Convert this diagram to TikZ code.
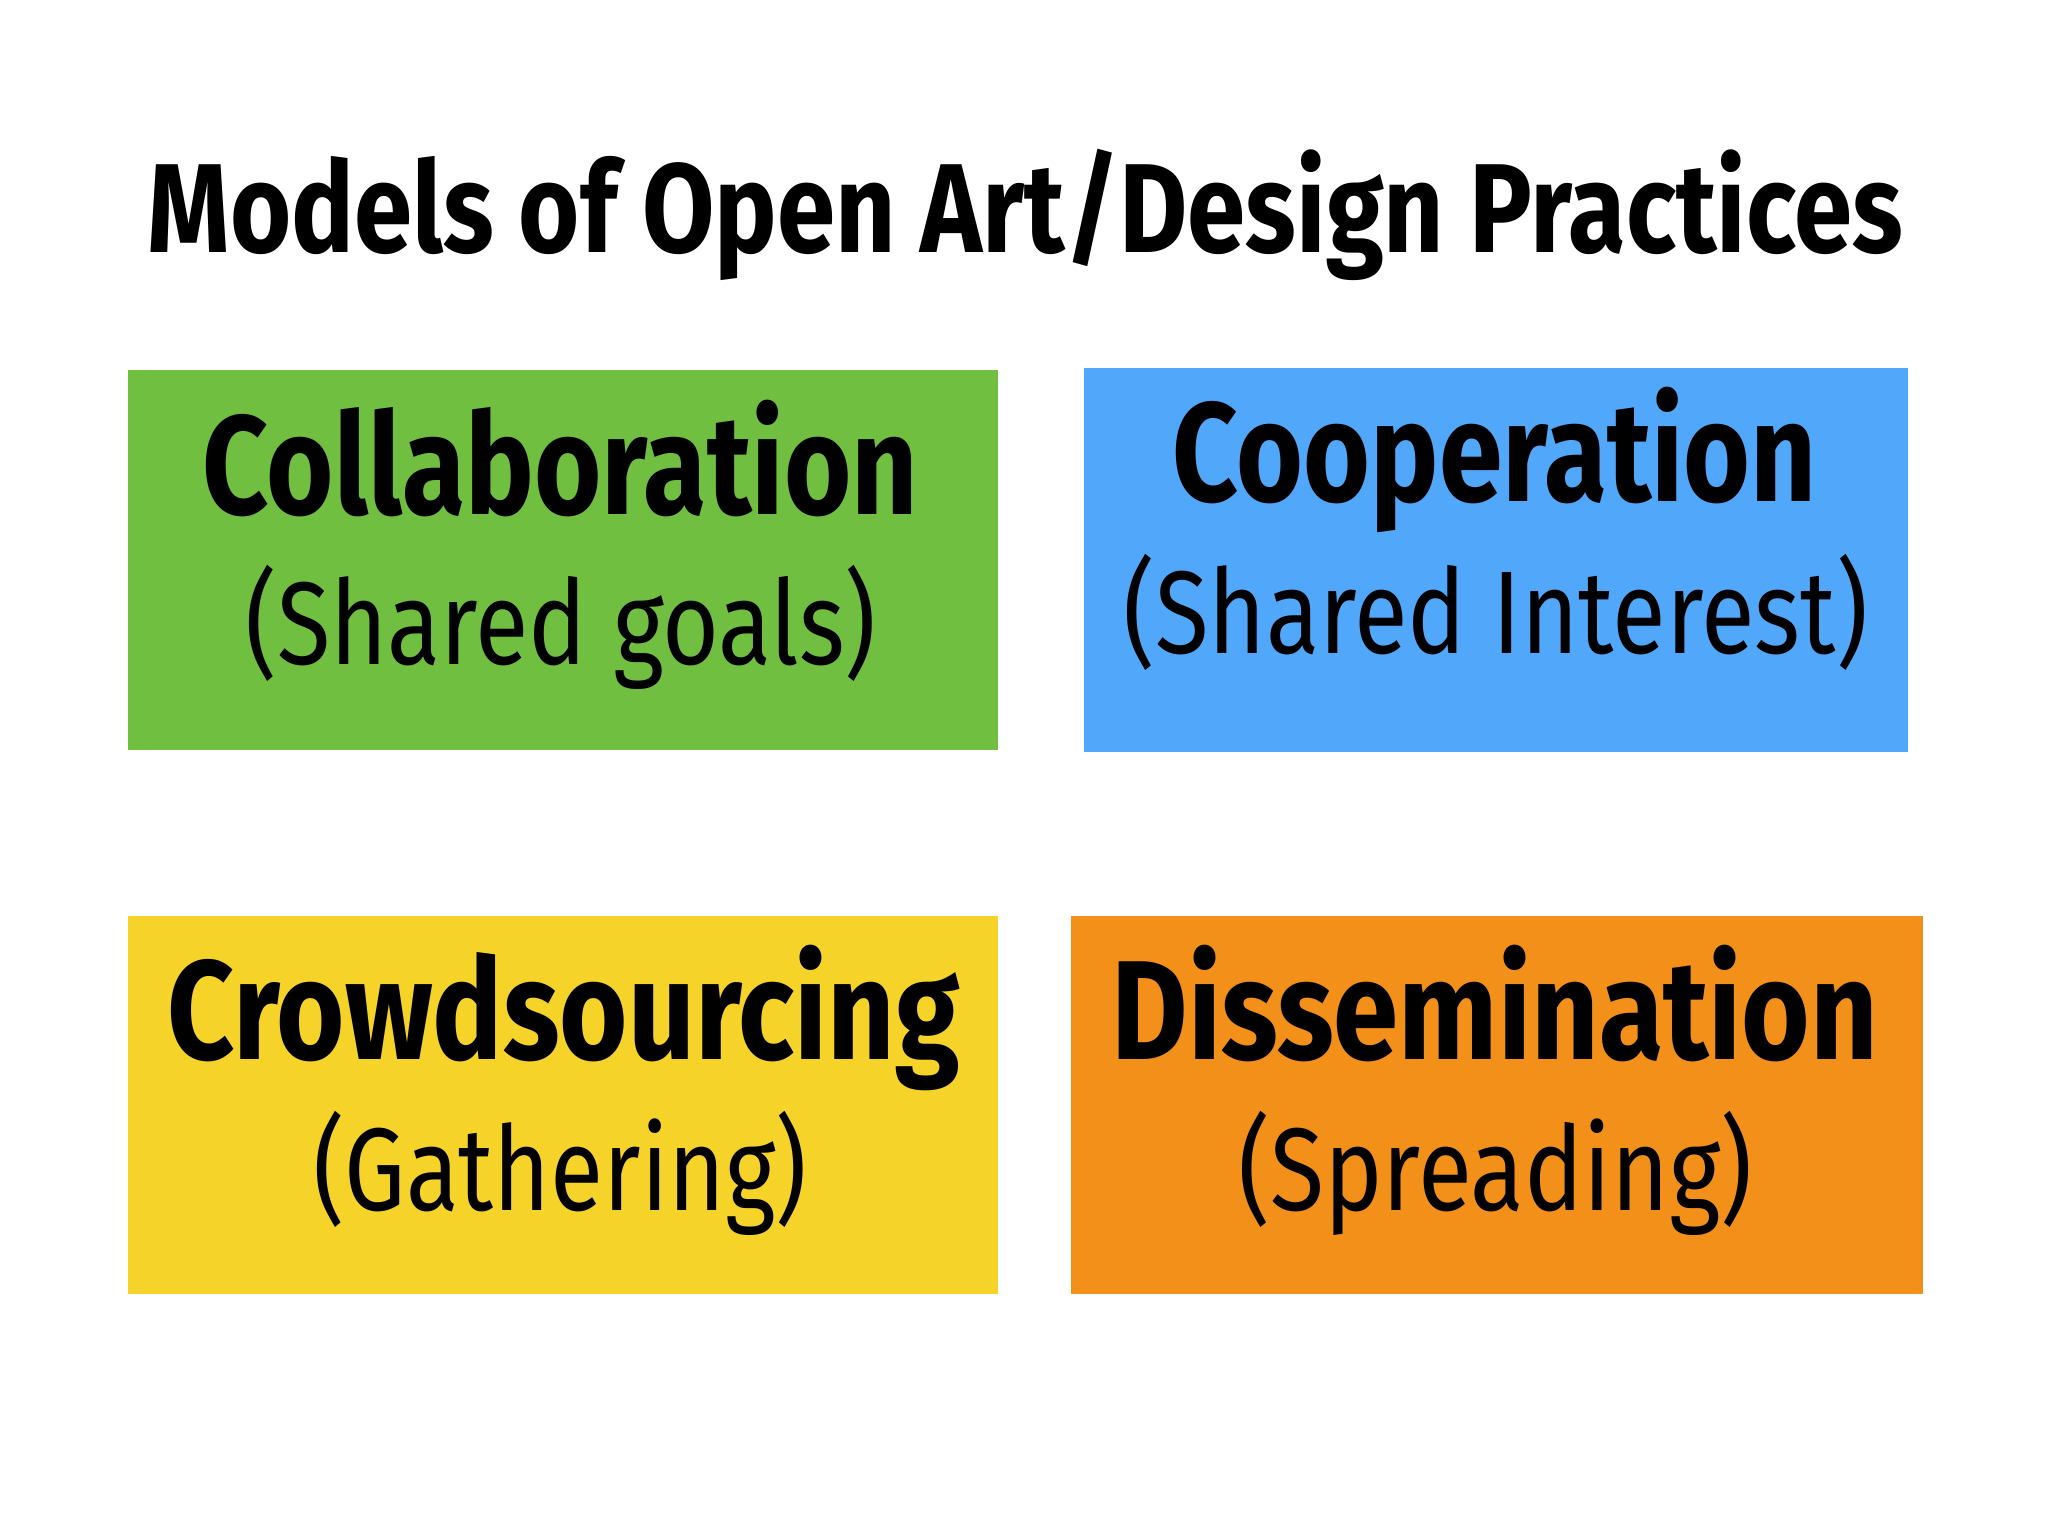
\documentclass[tikz,border=0pt]{standalone}
\usepackage{fontspec}
\setmainfont{Fira Sans}
\usepackage{graphicx}
\definecolor{cgreen}{HTML}{70BF41}
\definecolor{cblue}{HTML}{51A7F9}
\definecolor{cyellow}{HTML}{F5D328}
\definecolor{corange}{HTML}{F39019}
\newsavebox\fitbox
\newcommand\fitw[2]{\sbox\fitbox{#2}\pgfmathsetmacro\fitsx{#1/\the\wd\fitbox}\scalebox{\fitsx}[1]{\usebox\fitbox}}
\tikzset{
  card/.style={draw=none},
  headtxt/.style={inner sep=0pt, anchor=base, font=\bfseries\fontsize{108}{120}\selectfont},
  subtxt/.style={inner sep=0pt, anchor=base, font=\fontsize{90}{100}\selectfont},
  titletxt/.style={inner sep=0pt, anchor=base, font=\bfseries\fontsize{97}{110}\selectfont}
}
\begin{document}
\begin{tikzpicture}[x=1pt,y=-1pt]
\useasboundingbox[fill=white] (0,0) rectangle (1568,1176);
\node[titletxt] (title) at (785,193) {\fitw{1344pt}{Models of Open Art/Design Practices}};
% boxes
\fill[cgreen] (98,283) rectangle (764,574);
\fill[cblue] (830,282) rectangle (1461,576);
\fill[cyellow] (98,701) rectangle (764,991);
\fill[corange] (820,701) rectangle (1472,991);
% texts
\node[headtxt] (collab) at (429,394) {\fitw{548pt}{Collaboration}};
\node[subtxt] (collabsub) at (429.5,509) {\fitw{483pt}{(Shared goals)}};
\node[headtxt] (coop) at (1144.5,384) {\fitw{493pt}{Cooperation}};
\node[subtxt] (coopsub) at (1145,500) {\fitw{570pt}{(Shared Interest)}};
\node[headtxt] (crowd) at (431.5,811) {\fitw{607pt}{Crowdsourcing}};
\node[subtxt] (crowdsub) at (429,927) {\fitw{378pt}{(Gathering)}};
\node[headtxt] (dissem) at (1144.5,811) {\fitw{587pt}{Dissemination}};
\node[subtxt] (dissemsub) at (1145,927) {\fitw{394pt}{(Spreading)}};
\end{tikzpicture}
\end{document}
